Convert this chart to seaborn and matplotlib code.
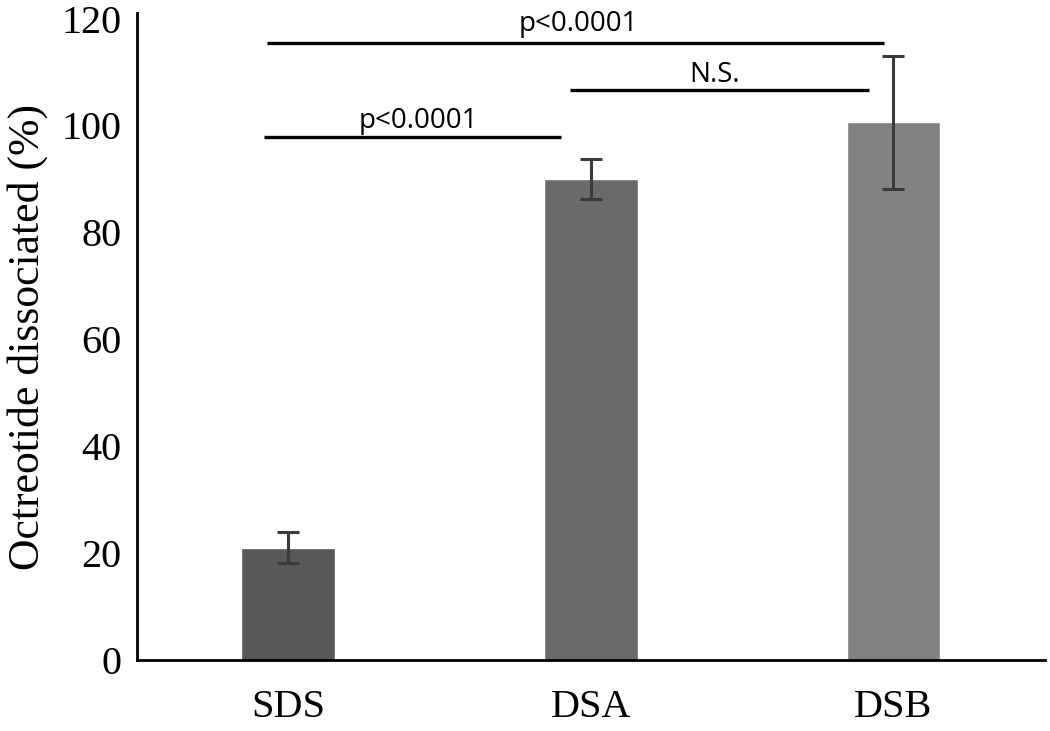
import matplotlib
matplotlib.use("Agg")
import matplotlib.pyplot as plt
import seaborn as sns
import pandas as pd

categories = ["SDS", "DSA", "DSB"]
values = [21.0, 90.0, 100.6]
errors = [2.9, 3.8, 12.4]
bar_colors = ["#585858", "#6a6a6a", "#828282"]
yticks = [0, 20, 40, 60, 80, 100, 120]

sig_labels = ["p<0.0001", "N.S.", "p<0.0001"]
sig_x0 = [-0.07, 0.93, -0.08]
sig_x1 = [1.97, 1.92, 0.90]
sig_y = [115.5, 106.7, 97.8]
sig_tx = [0.96, 1.41, 0.43]
sig_ty = [117.6, 108.2, 99.5]

sns.set_theme(style="white")
plt.rcParams["font.family"] = ["Liberation Serif", "DejaVu Serif"]

df = pd.DataFrame({"cat": categories, "val": values})
fig = plt.figure(figsize=(10.5, 7.31), dpi=100)
ax = fig.add_axes([0.1305, 0.097, 0.8645, 0.885])
sns.barplot(data=df, x="cat", y="val", hue="cat", palette=bar_colors,
            width=0.31, errorbar=None, legend=False, ax=ax, saturation=1)
ax.errorbar(range(len(categories)), values, yerr=errors, fmt="none",
            ecolor="#3a3a3a", elinewidth=2.2, capsize=8, capthick=2.2)

for lab, x0, x1, y, tx, ty in zip(sig_labels, sig_x0, sig_x1, sig_y, sig_tx, sig_ty):
    ax.plot([x0, x1], [y, y], color="black", lw=2.4, solid_capstyle="butt")
    ax.text(tx, ty, lab, ha="center", va="baseline", fontsize=20,
            family=["Open Sans", "DejaVu Sans"], color="black")

ax.set_xlim(-0.5, 2.5)
ax.set_ylim(0, 121)
ax.set_yticks(yticks)
ax.set_yticklabels([str(t) for t in yticks], fontsize=29)
ax.set_xticks(range(len(categories)))
ax.set_xticklabels(categories, fontsize=29)
ax.tick_params(axis="y", length=0, pad=11, colors="black")
ax.tick_params(axis="x", length=0, pad=21, colors="black")
ax.set_xlabel("")
ax.set_ylabel("Octreotide dissociated (%)", fontsize=31.5, labelpad=10, color="black")
for s in ["top", "right"]:
    ax.spines[s].set_visible(False)
for s in ["left", "bottom"]:
    ax.spines[s].set_color("black")
    ax.spines[s].set_linewidth(2)

fig.savefig("out.png", dpi=100, facecolor="white")
